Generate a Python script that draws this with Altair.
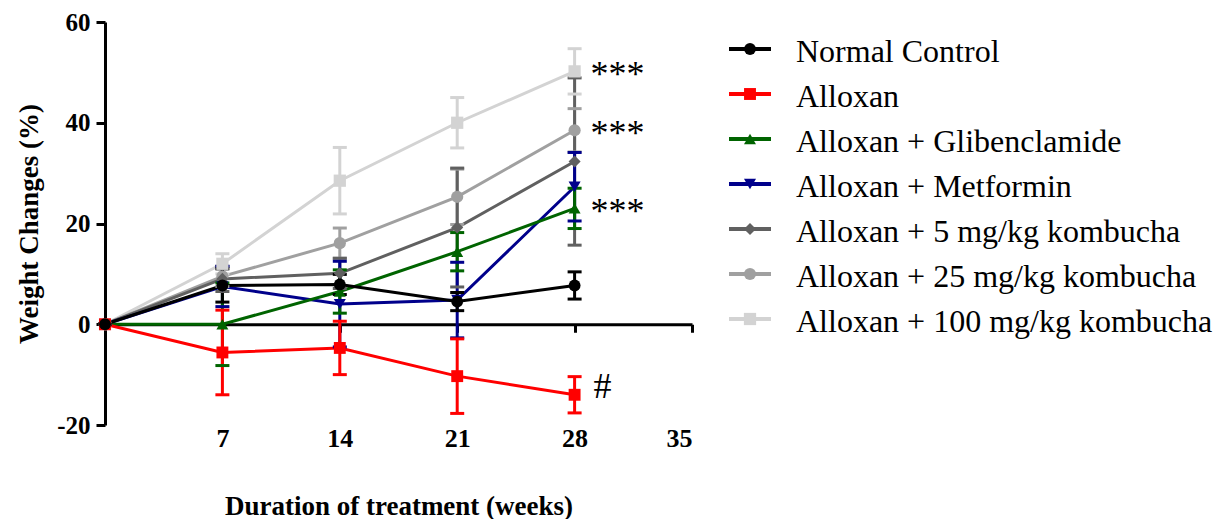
import altair as alt
import pandas as pd

series_names = [
    "Normal Control",
    "Alloxan",
    "Alloxan + Glibenclamide",
    "Alloxan + Metformin",
    "Alloxan + 5 mg/kg kombucha",
    "Alloxan + 25 mg/kg kombucha",
    "Alloxan + 100 mg/kg kombucha",
]
weeks = [0, 7, 14, 21, 28]

mean_normal = [0, 7.7, 7.9, 4.5, 7.7]
mean_alloxan = [0, -5.6, -4.7, -10.3, -14.0]
mean_glib = [0, 0.0, 6.5, 14.4, 23.0]
mean_metf = [0, 7.5, 4.0, 4.8, 27.3]
mean_k5 = [0, 9.0, 10.1, 19.2, 32.3]
mean_k25 = [0, 9.5, 16.1, 25.3, 38.5]
mean_k100 = [0, 12.0, 28.5, 40.0, 50.2]

err_normal = [0, 3.3, 2.0, 1.8, 2.7]
err_alloxan = [0, 8.4, 5.3, 7.4, 3.6]
err_glib = [0, 8.2, 4.3, 3.8, 4.0]
err_metf = [0, 4.0, 8.5, 7.5, 6.8]
err_k5 = [0, 2.5, 3.0, 11.8, 16.6]
err_k25 = [0, 2.0, 3.0, 5.5, 4.3]
err_k100 = [0, 2.0, 6.6, 5.0, 4.5]

colors = ["#000000", "#FF0000", "#006400", "#00008B", "#606060", "#A0A0A0", "#D3D3D3"]
shapes = ["circle", "square", "triangle-up", "triangle-down", "diamond", "circle", "square"]
sizes = [140, 150, 140, 140, 130, 280, 320]

ann_series = ["Alloxan + 100 mg/kg kombucha", "Alloxan + 25 mg/kg kombucha",
              "Alloxan + Glibenclamide", "Alloxan"]
ann_week = [28, 28, 28, 28]
ann_value = [50.2, 38.5, 23.0, -14.0]
ann_text = ["***", "***", "***", "#"]

x_ticks = [7, 14, 21, 28, 35]
y_ticks = [-20, 0, 20, 40, 60]

means = [mean_normal, mean_alloxan, mean_glib, mean_metf, mean_k5, mean_k25, mean_k100]
errs = [err_normal, err_alloxan, err_glib, err_metf, err_k5, err_k25, err_k100]

rows = []
# draw lightest series first so Normal Control ends on top
for i in reversed(range(len(series_names))):
    for w, m, e in zip(weeks, means[i], errs[i]):
        rows.append({"series": series_names[i], "order": i, "week": w,
                     "value": m, "lo": m - e, "hi": m + e})
df = pd.DataFrame(rows)
ann_df = pd.DataFrame({"series": ann_series, "week": ann_week,
                       "value": ann_value, "text": ann_text})
leg_df = pd.DataFrame({"series": series_names})

W, H = 587, 403
FONT = "Liberation Serif"

xscale = alt.Scale(domain=[0, 35], nice=False, zero=False)
yscale = alt.Scale(domain=[-20, 60], nice=False)
cscale = alt.Scale(domain=series_names, range=colors)
sscale = alt.Scale(domain=series_names, range=shapes)
zscale = alt.Scale(domain=series_names, range=sizes)

yaxis = alt.Axis(values=y_ticks, grid=False, domainColor="black", domainWidth=3,
                 tickColor="black", tickWidth=3, tickSize=9,
                 labelFont=FONT, labelFontWeight="bold", labelFontSize=25,
                 labelColor="black", labelPadding=6, labelExpr="'' + datum.value",
                 title="Weight Changes (%)", titleFont=FONT, titleFontWeight="bold",
                 titleFontSize=27, titleColor="black", titlePadding=13)

axis_zero = alt.Axis(orient="bottom", offset=-H * 20 / 80, values=x_ticks, grid=False,
                     domainColor="black", domainWidth=3, tickColor="black",
                     tickWidth=3, tickSize=8, labels=False, title=None)
axis_labels = alt.Axis(orient="bottom", values=x_ticks, grid=False, domain=False,
                       ticks=False, tickSize=0, labelFont=FONT, labelFontWeight="bold",
                       labelFontSize=26, labelColor="black", labelPadding=0,
                       title="Duration of treatment (weeks)", titleFont=FONT,
                       titleFontWeight="bold", titleFontSize=27, titleColor="black",
                       titlePadding=42)

base = alt.Chart(df)
color = alt.Color("series:N", scale=cscale, legend=None)

lines = base.mark_line(strokeWidth=3).encode(
    x=alt.X("week:Q", scale=xscale, axis=axis_zero),
    y=alt.Y("value:Q", scale=yscale, axis=yaxis),
    color=color,
    order="week:Q",
)
bars = base.mark_rule(strokeWidth=3).encode(
    x=alt.X("week:Q", scale=xscale, axis=None),
    y=alt.Y("lo:Q", scale=yscale, axis=yaxis),
    y2="hi:Q",
    color=color,
)
cap_lo = base.mark_tick(thickness=3, size=14, orient="horizontal", opacity=1).encode(
    x=alt.X("week:Q", scale=xscale, axis=None),
    y=alt.Y("lo:Q", scale=yscale, axis=yaxis),
    color=color,
)
cap_hi = base.mark_tick(thickness=3, size=14, orient="horizontal", opacity=1).encode(
    x=alt.X("week:Q", scale=xscale, axis=None),
    y=alt.Y("hi:Q", scale=yscale, axis=yaxis),
    color=color,
)
points = base.mark_point(filled=True, opacity=1).encode(
    x=alt.X("week:Q", scale=xscale, axis=axis_labels),
    y=alt.Y("value:Q", scale=yscale, axis=yaxis),
    color=color,
    shape=alt.Shape("series:N", scale=sscale, legend=None),
    size=alt.Size("series:N", scale=zscale, legend=None),
)
ann_base = alt.Chart(ann_df).encode(
    x=alt.X("week:Q", scale=xscale, axis=None),
    y=alt.Y("value:Q", scale=yscale, axis=yaxis),
    text="text:N",
)
stars = ann_base.mark_text(font=FONT, fontSize=36, align="left", baseline="alphabetic",
                           dx=16, dy=15, color="black").transform_filter(
    alt.datum.text == "***")
hashes = ann_base.mark_text(font=FONT, fontSize=36, align="left", baseline="alphabetic",
                            dx=19, dy=3, color="black").transform_filter(
    alt.datum.text == "#")

main = alt.layer(lines, bars, cap_lo, cap_hi, points, stars, hashes).resolve_axis(
    x="independent").properties(width=W, height=H,
                                view=alt.ViewBackground(stroke="transparent", strokeWidth=0))

lbase = alt.Chart(leg_df)
ly = alt.Y("series:N", scale=alt.Scale(domain=series_names, type="point", padding=0.6),
           axis=None)
leg_line = lbase.mark_rule(strokeWidth=4).encode(
    x=alt.value(5), x2=alt.value(47), y=ly, color=color)
leg_pt = lbase.mark_point(filled=True, opacity=1).encode(
    x=alt.value(26), y=ly, color=color,
    shape=alt.Shape("series:N", scale=sscale, legend=None),
    size=alt.Size("series:N", scale=zscale, legend=None))
leg_txt = lbase.mark_text(font=FONT, fontSize=32, align="left", baseline="middle",
                          dy=3, color="black").encode(
    x=alt.value(72), y=ly, text="series:N")
legend = alt.layer(leg_line, leg_pt, leg_txt).properties(
    width=470, height=324,
    view=alt.ViewBackground(stroke="transparent", strokeWidth=0))

chart = alt.hconcat(main, legend, spacing=32, bounds="flush").properties(
    padding={"left": 7, "top": 2, "right": 0, "bottom": 0}
).configure_view(stroke="transparent", strokeWidth=0).configure(background="white")

chart.save("out.html", embed_options={"renderer": "svg", "actions": False})
